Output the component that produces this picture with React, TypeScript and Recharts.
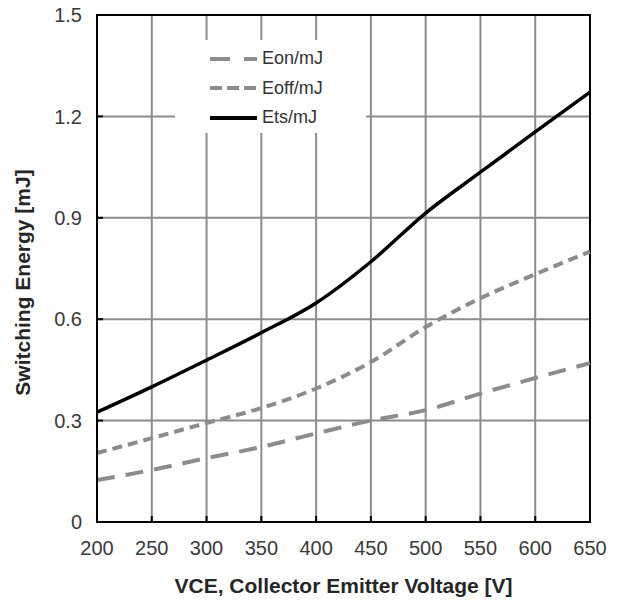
import {
  LineChart,
  Line,
  XAxis,
  YAxis,
  CartesianGrid,
  Legend,
  ReferenceArea,
  Label,
} from "recharts";

const voltages = [200, 250, 300, 350, 400, 450, 500, 550, 600, 650];
const eon = [0.124, 0.154, 0.189, 0.222, 0.262, 0.3, 0.331, 0.38, 0.426, 0.47];
const eoff = [0.204, 0.248, 0.293, 0.337, 0.395, 0.473, 0.577, 0.662, 0.733, 0.8];
const ets = [0.325, 0.4, 0.479, 0.56, 0.648, 0.77, 0.914, 1.035, 1.154, 1.272];

const xTicks = [200, 250, 300, 350, 400, 450, 500, 550, 600, 650];
const yTicks = [0, 0.3, 0.6, 0.9, 1.2, 1.5];

const series = [
  { key: "eon", name: "Eon/mJ", color: "#8c8c8c", dash: "18 11", legendDash: "20 14" },
  { key: "eoff", name: "Eoff/mJ", color: "#8c8c8c", dash: "10 6", legendDash: "12 5" },
  { key: "ets", name: "Ets/mJ", color: "#000000", dash: undefined, legendDash: undefined },
];

const data = voltages.map((v, i) => ({
  v,
  eon: eon[i],
  eoff: eoff[i],
  ets: ets[i],
}));

const font = "'Liberation Sans', Arial, sans-serif";

const LegendBox = () => (
  <div style={{ paddingTop: 4, paddingLeft: 35, fontFamily: font }}>
    {series.map((s) => (
      <div
        key={s.key}
        style={{ display: "flex", alignItems: "center", height: 29.5 }}
      >
        <svg width={47} height={8} style={{ marginRight: 5 }}>
          <line
            x1={0}
            y1={4}
            x2={47}
            y2={4}
            stroke={s.color}
            strokeWidth={4}
            strokeDasharray={s.legendDash}
          />
        </svg>
        <span style={{ fontSize: 18, color: "#333" }}>{s.name}</span>
      </div>
    ))}
  </div>
);

export default function App() {
  return (
    <div style={{ position: "absolute", left: 0, top: 0, background: "#fff" }}>
      <LineChart
        width={619}
        height={600}
        data={data}
        margin={{ top: 15, right: 29, bottom: 0, left: 0 }}
      >
        <CartesianGrid stroke="#8c8c8c" strokeWidth={2} />
        <XAxis
          dataKey="v"
          type="number"
          domain={[200, 650]}
          ticks={xTicks}
          height={78}
          stroke="#000"
          strokeWidth={2}
          tickSize={-6}
          tickMargin={25}
          tick={{ fill: "#3a3a3a", fontSize: 20, fontFamily: font }}
        >
          <Label
            value="VCE, Collector Emitter Voltage [V]"
            position="insideBottom"
            offset={7}
            style={{ fontSize: 21, fontWeight: "bold", fill: "#262626", fontFamily: font }}
          />
        </XAxis>
        <YAxis
          type="number"
          domain={[0, 1.5]}
          ticks={yTicks}
          width={97}
          stroke="#000"
          strokeWidth={2}
          tickSize={-6}
          tickMargin={21}
          tickFormatter={(t: number) => (t === 0 ? "0" : t.toFixed(1))}
          tick={{ fill: "#3a3a3a", fontSize: 20, fontFamily: font }}
        >
          <Label
            value="Switching Energy [mJ]"
            angle={-90}
            position="insideLeft"
            offset={23}
            dy={14}
            style={{
              fontSize: 21,
              fontWeight: "bold",
              fill: "#262626",
              fontFamily: font,
              textAnchor: "middle",
            }}
          />
        </YAxis>
        <ReferenceArea
          x1={200}
          x2={650}
          y1={0}
          y2={1.5}
          fill="none"
          stroke="#000"
          strokeWidth={2}
        />
        {series.map((s) => (
          <Line
            key={s.key}
            type="monotone"
            dataKey={s.key}
            name={s.name}
            stroke={s.color}
            strokeWidth={s.key === "ets" ? 3.5 : 4}
            strokeDasharray={s.dash}
            dot={false}
            isAnimationActive={false}
          />
        ))}
        <Legend
          layout="vertical"
          align="center"
          verticalAlign="middle"
          content={() => <LegendBox />}
          wrapperStyle={{
            left: 175,
            top: 40,
            width: 191,
            height: 93,
            background: "#fff",
          }}
        />
      </LineChart>
    </div>
  );
}
